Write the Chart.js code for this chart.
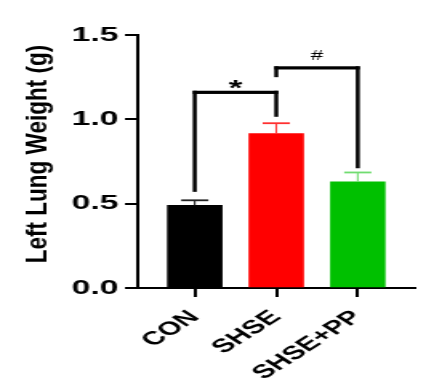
<!DOCTYPE html>
<html>
<head>
<meta charset="utf-8">
<script src="https://cdn.jsdelivr.net/npm/chart.js@4.4.1/dist/chart.umd.min.js"></script>
<style>
  html, body { margin: 0; padding: 0; background: #ffffff; }
  canvas { display: block; }
</style>
</head>
<body>
<!-- el original está estirado en horizontal, asi que se dibuja estrecho y se estira por CSS -->
<canvas id="grafica" width="271" height="391" style="width:434px;height:391px"></canvas>
<script>
// datos
const categorias = ['CON', 'SHSE', 'SHSE+PP'];
const medias = [0.49, 0.915, 0.63];
const errores = [0.03, 0.062, 0.055];
const ticksY = [0.0, 0.5, 1.0, 1.5];
const tituloY = 'Left Lung Weight (g)';

// corchetes de significancia
const sigTexto = ['*', '#'];
const sigDesde = [0, 1];
const sigHasta = [1, 2];
const sigArriba = [1.16, 1.305];
const sigPataIzq = [0.57, 1.25];
const sigPataDer = [1.015, 0.71];

const coloresBarra = ['#000000', '#ff0000', '#00c000'];
const coloresError = ['#222222', '#ff3030', '#70dc70'];
const fuente = '"Liberation Sans", Arial, sans-serif';

// barras de error, corchetes y titulo del eje Y
const extras = {
    id: 'extras',
    afterDatasetsDraw(chart) {
        const ctx = chart.ctx;
        const x = chart.scales.x, y = chart.scales.y;
        ctx.save();
        // barras de error (solo hacia arriba)
        medias.forEach((m, i) => {
            const px = x.getPixelForValue(i);
            const base = y.getPixelForValue(m);
            const tope = y.getPixelForValue(m + errores[i]);
            ctx.strokeStyle = coloresError[i];
            ctx.lineWidth = 1.1;
            ctx.beginPath();
            ctx.moveTo(px, base);
            ctx.lineTo(px, tope);
            ctx.stroke();
            ctx.lineWidth = 1.8;
            ctx.beginPath();
            ctx.moveTo(px - 8.5, tope);
            ctx.lineTo(px + 8.5, tope);
            ctx.stroke();
        });
        // corchetes
        const estilos = {
            '*': {font: 'bold 22px ' + fuente, dy: 3},
            '#': {font: '14px ' + fuente, dy: -8}
        };
        ctx.fillStyle = '#000000';
        sigTexto.forEach((t, k) => {
            const x1 = x.getPixelForValue(sigDesde[k]);
            const x2 = x.getPixelForValue(sigHasta[k]);
            const yT = y.getPixelForValue(sigArriba[k]);
            const yL = y.getPixelForValue(sigPataIzq[k]);
            const yR = y.getPixelForValue(sigPataDer[k]);
            ctx.fillRect(x1 - 1.25, yT - 1.6, 2.5, yL - yT + 1.6);
            ctx.fillRect(x1 - 1.25, yT - 1.6, x2 - x1 + 2.5, 3.2);
            ctx.fillRect(x2 - 1.25, yT - 1.6, 2.5, yR - yT + 1.6);
            ctx.font = estilos[t].font;
            ctx.textAlign = 'center';
            ctx.textBaseline = 'alphabetic';
            ctx.fillText(t, (x1 + x2) / 2, yT + estilos[t].dy);
        });
        // titulo Y, comprimido para compensar el estirado
        ctx.translate(24.4, 154);
        ctx.scale(0.82, 1);
        ctx.rotate(-Math.PI / 2);
        ctx.font = 'bold 22.5px ' + fuente;
        ctx.textAlign = 'center';
        ctx.textBaseline = 'middle';
        ctx.fillText(tituloY, 0, 0);
        ctx.restore();
    }
};

let datos = {
    datasets: [{
        data: medias.map((m, i) => ({x: i, y: m})),
        backgroundColor: coloresBarra,
        borderWidth: 0,
        barThickness: 34
    }]
};

let opciones = {
    responsive: false,
    devicePixelRatio: 1,
    animation: false,
    layout: {padding: {top: 35, right: 12, bottom: 0, left: 0}},
    plugins: {
        legend: {display: false},
        tooltip: {enabled: false}
    },
    scales: {
        x: {
            type: 'linear',
            min: -0.7,
            max: 2.7,
            offset: false,
            afterBuildTicks: (eje) => { eje.ticks = categorias.map((c, i) => ({value: i})); },
            afterFit: (eje) => { eje.height = 103; },
            grid: {display: true, offset: false, drawOnChartArea: false, tickLength: 9, color: '#000000', lineWidth: 2},
            border: {display: true, color: '#000000', width: 2},
            ticks: {
                autoSkip: false,
                minRotation: 45,
                maxRotation: 45,
                padding: 9,
                color: '#000000',
                font: {family: fuente, size: 19, weight: 'bold'},
                callback: (v) => categorias[v]
            }
        },
        y: {
            min: 0,
            max: 1.5,
            afterBuildTicks: (eje) => { eje.ticks = ticksY.map(v => ({value: v})); },
            afterFit: (eje) => { eje.width = 86; },
            grid: {display: true, drawOnChartArea: false, tickLength: 8, color: '#000000', lineWidth: 2},
            border: {display: true, color: '#000000', width: 2},
            ticks: {
                padding: 4,
                color: '#000000',
                font: {family: fuente, size: 21, weight: 'bold'},
                callback: (v) => v.toFixed(1)
            }
        }
    }
};

let miGrafica = new Chart(document.getElementById('grafica'), {
    type: 'bar',
    data: datos,
    options: opciones,
    plugins: [extras]
});
</script>
</body>
</html>
